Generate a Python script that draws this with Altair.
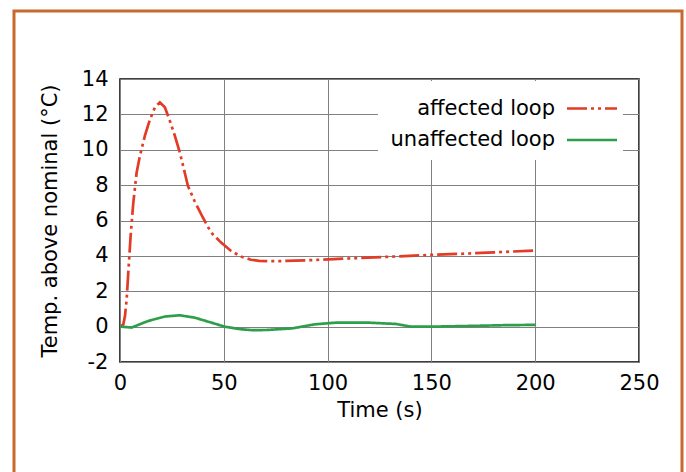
import altair as alt
import pandas as pd

# ---------------- data ----------------
series_names = ["affected loop", "unaffected loop"]

affected_t = [0, 1.6, 2.4, 3.2, 4.0, 5.1, 6.4, 8.0, 9.6, 12.0, 14.4, 16.8, 19.2, 21.6,
              24.0, 26.4, 28.8, 31.2, 32.7, 35.9, 39.9, 43.9, 48.7, 53.5, 58.3, 63.1,
              67, 72, 79, 90, 103, 115, 130, 149, 165, 180, 200]
affected_v = [0, 0.13, 0.6, 1.55, 3.06, 5.1, 7.0, 8.7, 9.66, 10.8, 11.7, 12.4, 12.68, 12.4,
              11.64, 10.8, 9.85, 8.7, 7.96, 7.1, 6.17, 5.32, 4.75, 4.28, 3.96, 3.78,
              3.72, 3.70, 3.71, 3.75, 3.82, 3.88, 3.95, 4.05, 4.12, 4.2, 4.3]

unaffected_t = [0, 5.6, 13.6, 21.6, 28.8, 35.9, 43.9, 50.3, 58.3, 63.9, 70.5, 83,
                93.8, 104.5, 118.8, 133, 140, 151, 169, 185, 200]
unaffected_v = [0, -0.05, 0.32, 0.57, 0.64, 0.51, 0.23, 0.0, -0.15, -0.2, -0.19, -0.1,
                0.13, 0.23, 0.23, 0.15, 0.0, 0.0, 0.04, 0.08, 0.1]

x_ticks = [0, 50, 100, 150, 200, 250]
y_ticks = [-2, 0, 2, 4, 6, 8, 10, 12, 14]

x_title = "Time (s)"
y_title = "Temp. above nominal (°C)"

# ---------------- styles ----------------
RED = "#E23B26"
GREEN = "#2F9E4A"
FRAME = "#C8692D"
FONT = "DejaVu Sans"
FS = 21
DASHES = [[20, 4, 3, 4, 3, 4], [1, 0]]

df = pd.concat([
    pd.DataFrame({"t": affected_t, "v": affected_v, "series": series_names[0]}),
    pd.DataFrame({"t": unaffected_t, "v": unaffected_v, "series": series_names[1]}),
], ignore_index=True)
legend_df = pd.DataFrame({"series": series_names})

color_enc = alt.Color("series:N", legend=None,
                      scale=alt.Scale(domain=series_names, range=[RED, GREEN]))
dash_enc = alt.StrokeDash("series:N", legend=None,
                          scale=alt.Scale(domain=series_names, range=DASHES))

lines = alt.Chart(df).mark_line(strokeWidth=2.7, clip=True).encode(
    x=alt.X("t:Q", scale=alt.Scale(domain=[0, 250], nice=False, zero=False),
            axis=alt.Axis(values=x_ticks, title=x_title, labelPadding=10,
                          labelFlush=False,
                          titleY=48, titleBaseline="middle")),
    y=alt.Y("v:Q", scale=alt.Scale(domain=[-2, 14], nice=False, zero=False),
            axis=alt.Axis(values=y_ticks, title=y_title, labelPadding=12,
                          labelFlush=False,
                          labelExpr="replace(datum.label, '\u2212', '-')",
                          titleX=-70, titleY=141.5, titleAngle=270,
                          titleAlign="center", titleBaseline="middle")),
    color=color_enc,
    strokeDash=dash_enc,
    order=alt.Order("t:Q"),
)

# key (legend) in the upper right of the plot, text left of the line sample
key_y = alt.Y("series:N", axis=None,
              scale=alt.Scale(type="point", domain=series_names, range=[29.5, 61], padding=0))
key_bg = alt.Chart(pd.DataFrame({"key": [0]})).mark_rect(fill="white").encode(
    x=alt.value(258), x2=alt.value(503), y=alt.value(2), y2=alt.value(81),
)
key_text = alt.Chart(legend_df).mark_text(
    align="right", baseline="middle", font=FONT, fontSize=FS, color="black"
).encode(x=alt.value(435), y=key_y, text="series:N")
key_line = alt.Chart(legend_df).mark_rule(strokeWidth=2.7).encode(
    x=alt.value(447), x2=alt.value(497), y=key_y,
    color=color_enc, strokeDash=dash_enc,
)

frame = alt.Chart(pd.DataFrame({"frame": [0]})).mark_rect(
    fill=None, stroke=FRAME, strokeWidth=3, clip=False
).encode(
    x=alt.value(-106), x2=alt.value(562),
    y=alt.value(-68), y2=alt.value(420),
)

chart = alt.layer(frame, lines, key_bg, key_text, key_line).resolve_scale(
    y="independent"
).properties(
    width=519, height=283,
    autosize=alt.AutoSizeParams(type="none"),
    padding={"left": 120, "top": 79, "right": 47, "bottom": 110},
    background="white",
).configure_view(
    stroke="black", strokeWidth=1.5,
).configure_axis(
    grid=True, gridColor="#808080", gridWidth=1, gridOpacity=1,
    domain=False, ticks=False, tickSize=0,
    labelFont=FONT, labelFontSize=FS, labelColor="black",
    titleFont=FONT, titleFontSize=FS, titleFontWeight="normal", titleColor="black",
)

chart.save("out.html", embed_options={"renderer": "svg", "actions": False})
